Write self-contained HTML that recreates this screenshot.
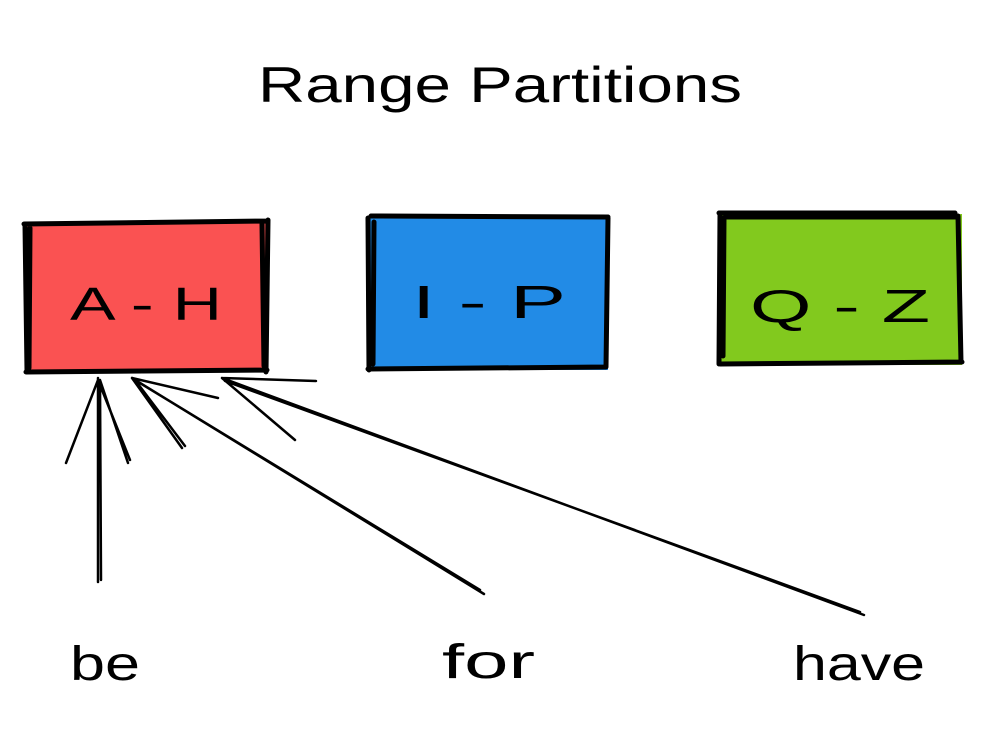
<!DOCTYPE html>
<html><head><meta charset="utf-8"><style>
html,body{margin:0;padding:0;background:#fff;}
svg{display:block}
text{font-family:"Liberation Sans",sans-serif;fill:#000;}
</style></head><body>
<svg width="990" height="731" viewBox="0 0 990 731" xmlns="http://www.w3.org/2000/svg">
<rect width="990" height="731" fill="#fff"/>
<text x="258" y="102" font-size="50" textLength="484" lengthAdjust="spacingAndGlyphs">Range Partitions</text>

<rect x="26" y="223" width="241" height="148" fill="#fa5252"/>
<path d="M24 224 L268 221 M268 220 L266 372 M267 370 L26 372 M27 371 L25 225 M30 228 L29 368 M262 224 L264 366" stroke="#000" stroke-width="5" fill="none" stroke-linecap="round"/>

<rect x="368" y="216" width="240" height="154" fill="#228be6"/>
<path d="M371 216 L608 217 M608 218 L606 367 M605 367 L368 369 M369 370 L368 218 M374 222 L373 364" stroke="#000" stroke-width="5" fill="none" stroke-linecap="round"/>

<rect x="719" y="214" width="243" height="151" fill="#82c91e"/>
<path d="M719 213 L955 213 M958 216 L961 362 M962 362 L720 364 M719 364 L720 214 M724 218 L723 356 M726 217 L957 217" stroke="#000" stroke-width="5" fill="none" stroke-linecap="round"/>

<text x="70" y="320" font-size="46" textLength="152" lengthAdjust="spacingAndGlyphs">A - H</text>
<text x="412" y="318" font-size="46" textLength="154" lengthAdjust="spacingAndGlyphs">I - P</text>
<text x="750" y="322" font-size="46" textLength="180" lengthAdjust="spacingAndGlyphs">Q - Z</text>

<g stroke="#000" stroke-width="2.5" fill="none" stroke-linecap="round">
<path d="M98 582 L98 378 M101 580 L100 380 M98 380 L66 463 M100 380 L128 463 M98 380 L130 460"/>
<path d="M484 594 L132 378 M480 590 L135 380 M132 378 L182 448 M132 378 L218 398 M135 380 L185 446"/>
<path d="M864 615 L222 378 M860 612 L225 381 M222 378 L295 440 M222 378 L316 381"/>
</g>

<text x="70" y="680" font-size="48" textLength="70" lengthAdjust="spacingAndGlyphs">be</text>
<text x="442" y="678" font-size="48" textLength="93" lengthAdjust="spacingAndGlyphs">for</text>
<text x="793" y="680" font-size="48" textLength="132" lengthAdjust="spacingAndGlyphs">have</text>
</svg>
</body></html>
